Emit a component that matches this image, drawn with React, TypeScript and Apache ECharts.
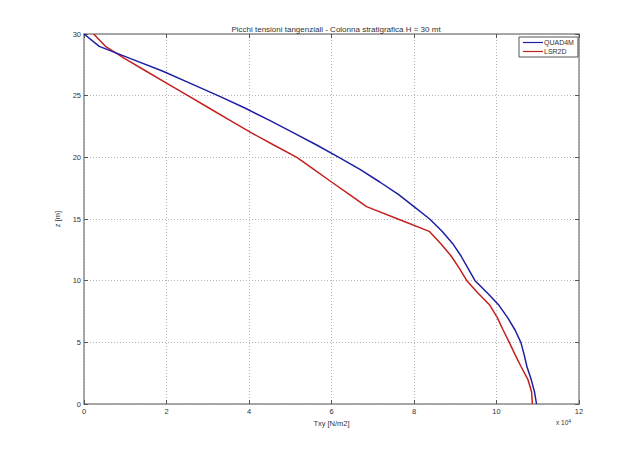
import React, { useEffect, useRef } from "react";
import * as echarts from "echarts";

// Values in units of 10^4 N/m2 (as read on the x axis), depth z in m
const quad4mTxy = [0, 0.37, 1.13, 1.9, 2.58, 3.25, 3.9, 4.5, 5.07, 5.64, 6.18, 6.7, 7.17, 7.62, 8.0, 8.38, 8.68, 8.94, 9.14, 9.31, 9.48, 9.78, 10.06, 10.27, 10.45, 10.59, 10.67, 10.74, 10.84, 10.92, 10.97];
const quad4mZ = [30, 29, 28, 27, 26, 25, 24, 23, 22, 21, 20, 19, 18, 17, 16, 15, 14, 13, 12, 11, 10, 9, 8, 7, 6, 5, 4, 3, 2, 1, 0];

const lsr2dTxy = [0.235, 0.52, 0.99, 1.5, 2.01, 2.52, 3.03, 3.54, 4.05, 4.6, 5.16, 5.58, 6.0, 6.43, 6.85, 7.61, 8.37, 8.65, 8.9, 9.1, 9.28, 9.55, 9.84, 10.02, 10.16, 10.31, 10.45, 10.6, 10.76, 10.85, 10.87];
const lsr2dZ = [30, 29, 28, 27, 26, 25, 24, 23, 22, 21, 20, 19, 18, 17, 16, 15, 14, 13, 12, 11, 10, 9, 8, 7, 6, 5, 4, 3, 2, 1, 0];

const seriesNames = ["QUAD4M", "LSR2D"];
const titleText = "Picchi tensioni tangenziali - Colonna stratigrafica H = 30 mt";
const xName = "Txy [N/m2]";
const yName = "z [m]";

const FONT = "Liberation Sans, Arial, sans-serif";
const AXIS_COLOR = "#8c8c8c";
const TEXT_COLOR = "#333";

export default function App() {
  const ref = useRef<HTMLDivElement>(null);
  useEffect(() => {
    if (!ref.current) return;
    const chart = echarts.init(ref.current, undefined, { renderer: "svg" });
    const pair = (xs: number[], zs: number[]) => xs.map((v, i) => [v, zs[i]]);
    const axisCommon = {
      type: "value" as const,
      axisLine: { show: true, onZero: false, lineStyle: { color: AXIS_COLOR, width: 1.5 } },
      axisTick: { show: true, inside: true, length: 4, lineStyle: { color: "#555", width: 1 } },
    };
    chart.setOption({
      animation: false,
      backgroundColor: "#fff",
      textStyle: { fontFamily: FONT },
      title: {
        text: titleText,
        left: 331,
        textAlign: "center",
        top: 20,
        textStyle: { fontSize: 8, fontWeight: "normal", color: TEXT_COLOR, fontFamily: FONT },
      },
      legend: {
        orient: "vertical",
        left: 519,
        top: 37,
        data: seriesNames,
        backgroundColor: "#fff",
        borderColor: "#555",
        borderWidth: 1,
        borderRadius: 0,
        padding: [2, 4, 2, 4],
        itemGap: 2,
        itemWidth: 20,
        itemHeight: 1.2,
        icon: "rect",
        textStyle: { fontSize: 7, color: TEXT_COLOR, fontFamily: FONT, padding: [0, 0, 0, -4] },
      },
      grid: { left: 84, right: 61, top: 34, bottom: 50, show: false },
      xAxis: [
        {
          ...axisCommon,
          position: "bottom",
          min: 0,
          max: 12,
          interval: 2,
          name: xName,
          nameLocation: "middle",
          nameGap: 12,
          nameTextStyle: { fontSize: 7.5, color: TEXT_COLOR },
          axisLabel: { fontSize: 7.5, color: TEXT_COLOR, margin: 3 },
          splitLine: { show: true, lineStyle: { color: "#b5b5b5", type: [1, 2], width: 1 } },
        },
        {
          ...axisCommon,
          position: "top",
          min: 0,
          max: 12,
          interval: 2,
          axisLabel: { show: false },
          splitLine: { show: false },
        },
      ],
      yAxis: [
        {
          ...axisCommon,
          position: "left",
          min: 0,
          max: 30,
          interval: 5,
          name: yName,
          nameLocation: "middle",
          nameGap: 17,
          nameRotate: 90,
          nameTextStyle: { fontSize: 7.5, color: TEXT_COLOR },
          axisLabel: { fontSize: 7.5, color: TEXT_COLOR, margin: 3 },
          splitLine: { show: true, lineStyle: { color: "#b5b5b5", type: [1, 2], width: 1 } },
        },
        {
          ...axisCommon,
          position: "right",
          min: 0,
          max: 30,
          interval: 5,
          axisLabel: { show: false },
          splitLine: { show: false },
        },
      ],
      graphic: [
        {
          type: "text",
          left: 556,
          top: 418,
          style: {
            text: "x 10{s|4}",
            rich: { s: { fontSize: 5, verticalAlign: "top", padding: [0, 0, 4, 0] } },
            fontSize: 6.5,
            fill: TEXT_COLOR,
            fontFamily: FONT,
          },
        },
      ],
      series: [
        {
          name: seriesNames[0],
          type: "line",
          data: pair(quad4mTxy, quad4mZ),
          showSymbol: false,
          symbol: "none",
          lineStyle: { color: "#1f1fa3", width: 1.5 },
          itemStyle: { color: "#1f1fa3" },
          z: 3,
        },
        {
          name: seriesNames[1],
          type: "line",
          data: pair(lsr2dTxy, lsr2dZ),
          showSymbol: false,
          symbol: "none",
          lineStyle: { color: "#c42020", width: 1.5 },
          itemStyle: { color: "#c42020" },
          z: 2,
        },
      ],
    });
    return () => chart.dispose();
  }, []);
  return (
    <div
      ref={ref}
      style={{ position: "fixed", left: 0, top: 0, width: 640, height: 454, background: "#fff" }}
    />
  );
}
